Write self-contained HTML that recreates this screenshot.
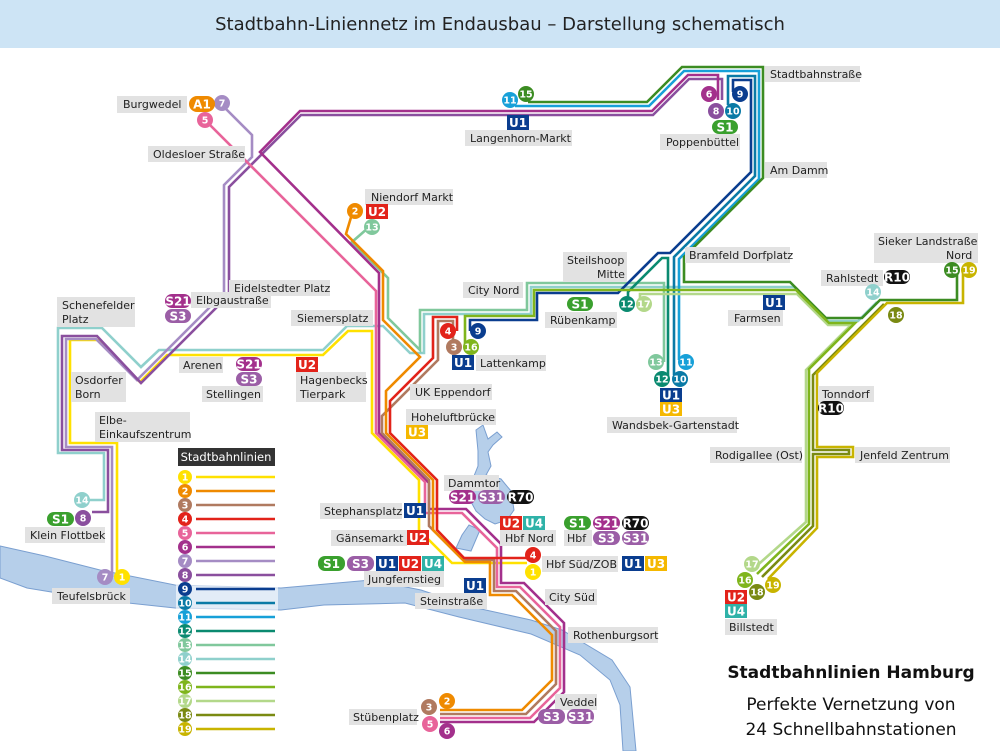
<!DOCTYPE html>
<html><head><meta charset="utf-8"><style>
html,body{margin:0;padding:0;background:#fff;}
svg{display:block;}
.l{font-family:"DejaVu Sans","Liberation Sans",sans-serif;font-size:11px;fill:#222;}
.n{font-family:"DejaVu Sans","Liberation Sans",sans-serif;font-size:9.5px;font-weight:bold;fill:#fff;text-anchor:middle;}
.b{font-family:"DejaVu Sans","Liberation Sans",sans-serif;font-size:12px;font-weight:bold;fill:#fff;text-anchor:middle;}
.ln{fill:none;stroke-width:2.6;stroke-linejoin:miter;}
</style></head><body>
<svg width="1000" height="751" viewBox="0 0 1000 751" xmlns="http://www.w3.org/2000/svg">
<rect x="0" y="0" width="1000" height="48" fill="#cde4f5"/>
<text x="500" y="30" text-anchor="middle" font-family="DejaVu Sans, Liberation Sans, sans-serif" font-size="18" fill="#222">Stadtbahn-Liniennetz im Endausbau – Darstellung schematisch</text>

<!-- river -->
<path d="M0,546 L45,556 L100,570 L175,585 L281,588 L371,580 L421,590 L472,607 L531,620 L562,630 L612,660 L630,687 L636,751 L623,751 L620,705 L610,680 L580,655 L531,634 L459,617 L405,603 L324,605 L281,610 L175,608 L100,600 L27,588 L0,578 Z" fill="#b6cfea" stroke="#7a9fd0" stroke-width="1"/>
<path d="M476,430 L483,425 L488,439 L497,432 L502,437 L493,445 L488,452 L491,466 L486,475 L501,479 L511,491 L514,510 L507,520 L495,524 L485,519 L476,511 L470,500 L472,481 L478,466 L478,451 Z" fill="#b6cfea" stroke="#7a9fd0" stroke-width="1"/>
<path d="M462,535 L469,525 L480,530 L471,551 L456,548 Z" fill="#b6cfea" stroke="#7a9fd0" stroke-width="1"/>

<!-- legend -->
<rect x="176" y="468" width="102" height="270" fill="#fff" fill-opacity="0.6"/>
<rect x="178" y="448" width="97" height="18" fill="#333"/>
<text x="226" y="461" text-anchor="middle" font-family="DejaVu Sans, sans-serif" font-size="11.5" fill="#fff">Stadtbahnlinien</text>
<g stroke-width="2.4">
<line x1="196" y1="477" x2="275" y2="477" stroke="#ffe100"/>
<line x1="196" y1="491" x2="275" y2="491" stroke="#ef8a00"/>
<line x1="196" y1="505" x2="275" y2="505" stroke="#b07a60"/>
<line x1="196" y1="519" x2="275" y2="519" stroke="#e2231a"/>
<line x1="196" y1="533" x2="275" y2="533" stroke="#e8649a"/>
<line x1="196" y1="547" x2="275" y2="547" stroke="#a3308c"/>
<line x1="196" y1="561" x2="275" y2="561" stroke="#a58cc4"/>
<line x1="196" y1="575" x2="275" y2="575" stroke="#8a4f9e"/>
<line x1="196" y1="589" x2="275" y2="589" stroke="#0a3d8f"/>
<line x1="196" y1="603" x2="275" y2="603" stroke="#0a7aa6"/>
<line x1="196" y1="617" x2="275" y2="617" stroke="#17a0d8"/>
<line x1="196" y1="631" x2="275" y2="631" stroke="#0a8a70"/>
<line x1="196" y1="645" x2="275" y2="645" stroke="#80c89c"/>
<line x1="196" y1="659" x2="275" y2="659" stroke="#8fd0cc"/>
<line x1="196" y1="673" x2="275" y2="673" stroke="#3c8c22"/>
<line x1="196" y1="687" x2="275" y2="687" stroke="#7fb51c"/>
<line x1="196" y1="701" x2="275" y2="701" stroke="#b3d88a"/>
<line x1="196" y1="715" x2="275" y2="715" stroke="#7a8a12"/>
<line x1="196" y1="729" x2="275" y2="729" stroke="#c8b400"/>
</g>
<g>
<circle cx="185" cy="477" r="7" fill="#ffe100"/><text class="n" x="185" y="480.5">1</text>
<circle cx="185" cy="491" r="7" fill="#ef8a00"/><text class="n" x="185" y="494.5">2</text>
<circle cx="185" cy="505" r="7" fill="#b07a60"/><text class="n" x="185" y="508.5">3</text>
<circle cx="185" cy="519" r="7" fill="#e2231a"/><text class="n" x="185" y="522.5">4</text>
<circle cx="185" cy="533" r="7" fill="#e8649a"/><text class="n" x="185" y="536.5">5</text>
<circle cx="185" cy="547" r="7" fill="#a3308c"/><text class="n" x="185" y="550.5">6</text>
<circle cx="185" cy="561" r="7" fill="#a58cc4"/><text class="n" x="185" y="564.5">7</text>
<circle cx="185" cy="575" r="7" fill="#8a4f9e"/><text class="n" x="185" y="578.5">8</text>
<circle cx="185" cy="589" r="7" fill="#0a3d8f"/><text class="n" x="185" y="592.5">9</text>
<circle cx="185" cy="603" r="7" fill="#0a7aa6"/><text class="n" x="185" y="606.5">10</text>
<circle cx="185" cy="617" r="7" fill="#17a0d8"/><text class="n" x="185" y="620.5">11</text>
<circle cx="185" cy="631" r="7" fill="#0a8a70"/><text class="n" x="185" y="634.5">12</text>
<circle cx="185" cy="645" r="7" fill="#80c89c"/><text class="n" x="185" y="648.5">13</text>
<circle cx="185" cy="659" r="7" fill="#8fd0cc"/><text class="n" x="185" y="662.5">14</text>
<circle cx="185" cy="673" r="7" fill="#3c8c22"/><text class="n" x="185" y="676.5">15</text>
<circle cx="185" cy="687" r="7" fill="#7fb51c"/><text class="n" x="185" y="690.5">16</text>
<circle cx="185" cy="701" r="7" fill="#b3d88a"/><text class="n" x="185" y="704.5">17</text>
<circle cx="185" cy="715" r="7" fill="#7a8a12"/><text class="n" x="185" y="718.5">18</text>
<circle cx="185" cy="729" r="7" fill="#c8b400"/><text class="n" x="185" y="732.5">19</text>
</g>

<!-- lines -->
<g class="lines">
<path class="ln" stroke="#8fd0cc" d="M88,500 H104 V453 H58 V328 H102 L141,367 L159,350 H323 L347,326 H383 L410,353 H424 V314 H531 V287 H794 L828,321 H858 L877,302"/>
<path class="ln" stroke="#80c89c" d="M368,228 L352,242 L388,278 V318 L420,350 V310 H527 V283 H664 V362"/>
<path class="ln" stroke="#ffe100" d="M117,577 V443 H70 V340 H98 L140,382 L167,355 H323 L348,331 H372 V433 L419,480 V530 L452,563 H527"/>
<path class="ln" stroke="#a58cc4" d="M225,108 L252,135 V157 L224,185 V293 L137,380 L96,339 H66 V447 H112 V577"/>
<path class="ln" stroke="#8a4f9e" d="M722,100 V79 H689 L653,115 H301 L229,187 V295 L141,383 L97,336 H62 V450 H108 V512 H92"/>
<path class="ln" stroke="#a3308c" d="M718,100 V75 H688 L652,111 H300 L260,152 L379,273 V433 L429,483 V509 H466 L501,544 V583 H524 L564,623 V692 L534,722 H440"/>
<path class="ln" stroke="#e8649a" d="M207,122 L376,291 V433 L425,482 V513 H462 L497,548 V587 H520 L560,627 V688 L530,718 H440"/>
<path class="ln" stroke="#b07a60" d="M453,342 V321 H438 V360 L382,416 V433 L429,480 V526 L463,560 H494 V591 H516 L556,631 V684 L526,714 H440"/>
<path class="ln" stroke="#ef8a00" d="M352,214 L346,234 L383,271 V320 L420,357 L386,391 V433 L433,480 V530 L465,562 H490 V595 H512 L552,635 V680 L522,710 H440"/>
<path class="ln" stroke="#e2231a" d="M457,331 V317 H433 V358 L390,401 V433 L437,480 V530 L464,558 H527"/>
<path class="ln" stroke="#0a3d8f" d="M470,331 V320 H537 V293 H618 L658,253 H670 L751,172 V80 H733 V92"/>
<path class="ln" stroke="#0a7aa6" d="M728,105 V76 H755 V176 L674,257 V375"/>
<path class="ln" stroke="#17a0d8" d="M515,106 H649 L684,71 H759 V179 L679,259 V360"/>
<path class="ln" stroke="#0a8a70" d="M628,300 V292 L662,258 H668 V379"/>
<path class="ln" stroke="#3c8c22" d="M528,102 H647 L682,67 H763 V178 L684,257 V282 H790 L826,318 H862 L880,300 H957 V275"/>
<path class="ln" stroke="#b3d88a" d="M640,300 V294 H797 L828,325 H851 L806,370 V522 L752,570"/>
<path class="ln" stroke="#7fb51c" d="M465,345 V316 H534 V290 H796 L829,323 H855 L809,369 V524 L757,574"/>
<path class="ln" stroke="#7a8a12" d="M884,304 L813,375 V450 H849 V454 H813 V526 L762,577"/>
<path class="ln" stroke="#c8b400" d="M963,272 V303 H887 L817,373 V447 H853 V457 H817 V528 L768,579"/>
</g>

<!-- label boxes -->
<g fill="#e2e2e2">
<rect x="117" y="96" width="70" height="17"/>
<rect x="148" y="146" width="97" height="16"/>
<rect x="365" y="189" width="88" height="16"/>
<rect x="229" y="280" width="101" height="16"/>
<rect x="57" y="297" width="78" height="30"/>
<rect x="191" y="292" width="80" height="16"/>
<rect x="291" y="310" width="82" height="16"/>
<rect x="179" y="357" width="44" height="16"/>
<rect x="202" y="386" width="61" height="16"/>
<rect x="296" y="372" width="70" height="30"/>
<rect x="71" y="372" width="55" height="30"/>
<rect x="95" y="412" width="95" height="30"/>
<rect x="25" y="527" width="80" height="16"/>
<rect x="52" y="588" width="78" height="16"/>
<rect x="465" y="130" width="107" height="16"/>
<rect x="660" y="134" width="80" height="16"/>
<rect x="765" y="66" width="95" height="16"/>
<rect x="765" y="162" width="62" height="16"/>
<rect x="685" y="247" width="105" height="16"/>
<rect x="563" y="252" width="64" height="30"/>
<rect x="463" y="282" width="60" height="16"/>
<rect x="545" y="312" width="72" height="16"/>
<rect x="476" y="355" width="70" height="16"/>
<rect x="410" y="384" width="82" height="16"/>
<rect x="406" y="409" width="90" height="16"/>
<rect x="607" y="417" width="130" height="16"/>
<rect x="728" y="310" width="55" height="16"/>
<rect x="874" y="233" width="104" height="30"/>
<rect x="821" y="270" width="62" height="16"/>
<rect x="818" y="386" width="56" height="16"/>
<rect x="855" y="447" width="95" height="16"/>
<rect x="710" y="447" width="92" height="16"/>
<rect x="725" y="619" width="52" height="16"/>
<rect x="444" y="475" width="55" height="16"/>
<rect x="320" y="503" width="82" height="16"/>
<rect x="500" y="530" width="56" height="16"/>
<rect x="564" y="530" width="28" height="16"/>
<rect x="331" y="530" width="76" height="16"/>
<rect x="542" y="556" width="76" height="16"/>
<rect x="364" y="571" width="80" height="16"/>
<rect x="415" y="593" width="72" height="16"/>
<rect x="545" y="589" width="52" height="16"/>
<rect x="568" y="627" width="90" height="16"/>
<rect x="555" y="694" width="42" height="16"/>
<rect x="349" y="709" width="68" height="16"/>
</g>
<g class="l">
<text x="123" y="108" class="l">Burgwedel</text>
<text x="153" y="158" class="l">Oldesloer Straße</text>
<text x="371" y="201" class="l">Niendorf Markt</text>
<text x="234" y="292" class="l">Eidelstedter Platz</text>
<text x="62" y="309" class="l">Schenefelder</text>
<text x="62" y="323" class="l">Platz</text>
<text x="196" y="304" class="l">Elbgaustraße</text>
<text x="297" y="322" class="l">Siemersplatz</text>
<text x="183" y="369" class="l">Arenen</text>
<text x="206" y="398" class="l">Stellingen</text>
<text x="300" y="384" class="l">Hagenbecks</text>
<text x="300" y="398" class="l">Tierpark</text>
<text x="75" y="384" class="l">Osdorfer</text>
<text x="75" y="398" class="l">Born</text>
<text x="99" y="424" class="l">Elbe-</text>
<text x="99" y="438" class="l">Einkaufszentrum</text>
<text x="30" y="539" class="l">Klein Flottbek</text>
<text x="57" y="600" class="l">Teufelsbrück</text>
<text x="470" y="142" class="l">Langenhorn-Markt</text>
<text x="666" y="146" class="l">Poppenbüttel</text>
<text x="770" y="78" class="l">Stadtbahnstraße</text>
<text x="770" y="174" class="l">Am Damm</text>
<text x="689" y="259" class="l">Bramfeld Dorfplatz</text>
<text x="567" y="264" class="l">Steilshoop</text>
<text x="597" y="278" class="l">Mitte</text>
<text x="468" y="294" class="l">City Nord</text>
<text x="550" y="324" class="l">Rübenkamp</text>
<text x="480" y="367" class="l">Lattenkamp</text>
<text x="415" y="396" class="l">UK Eppendorf</text>
<text x="411" y="421" class="l">Hoheluftbrücke</text>
<text x="612" y="429" class="l">Wandsbek-Gartenstadt</text>
<text x="734" y="322" class="l">Farmsen</text>
<text x="878" y="245" class="l">Sieker Landstraße</text>
<text x="946" y="259" class="l">Nord</text>
<text x="826" y="282" class="l">Rahlstedt</text>
<text x="822" y="398" class="l">Tonndorf</text>
<text x="860" y="459" class="l">Jenfeld Zentrum</text>
<text x="715" y="459" class="l">Rodigallee (Ost)</text>
<text x="729" y="631" class="l">Billstedt</text>
<text x="448" y="487" class="l">Dammtor</text>
<text x="324" y="515" class="l">Stephansplatz</text>
<text x="505" y="542" class="l">Hbf Nord</text>
<text x="567" y="542" class="l">Hbf</text>
<text x="336" y="542" class="l">Gänsemarkt</text>
<text x="546" y="568" class="l">Hbf Süd/ZOB</text>
<text x="368" y="583" class="l">Jungfernstieg</text>
<text x="420" y="605" class="l">Steinstraße</text>
<text x="549" y="601" class="l">City Süd</text>
<text x="573" y="639" class="l">Rothenburgsort</text>
<text x="560" y="706" class="l">Veddel</text>
<text x="353" y="721" class="l">Stübenplatz</text>
</g>

<!-- line circles -->
<g>
<circle cx="222" cy="103" r="8" fill="#a58cc4"/><text class="n" x="222" y="106.5">7</text>
<circle cx="205" cy="120" r="8" fill="#e8649a"/><text class="n" x="205" y="123.5">5</text>
<circle cx="510" cy="100" r="8" fill="#17a0d8"/><text class="n" x="510" y="103.5">11</text>
<circle cx="526" cy="94" r="8" fill="#3c8c22"/><text class="n" x="526" y="97.5">15</text>
<circle cx="709" cy="94" r="8" fill="#a3308c"/><text class="n" x="709" y="97.5">6</text>
<circle cx="740" cy="94" r="8" fill="#0a3d8f"/><text class="n" x="740" y="97.5">9</text>
<circle cx="716" cy="111" r="8" fill="#8a4f9e"/><text class="n" x="716" y="114.5">8</text>
<circle cx="733" cy="111" r="8" fill="#0a7aa6"/><text class="n" x="733" y="114.5">10</text>
<circle cx="355" cy="211" r="8" fill="#ef8a00"/><text class="n" x="355" y="214.5">2</text>
<circle cx="372" cy="227" r="8" fill="#80c89c"/><text class="n" x="372" y="230.5">13</text>
<circle cx="448" cy="331" r="8" fill="#e2231a"/><text class="n" x="448" y="334.5">4</text>
<circle cx="478" cy="331" r="8" fill="#0a3d8f"/><text class="n" x="478" y="334.5">9</text>
<circle cx="454" cy="347" r="8" fill="#b07a60"/><text class="n" x="454" y="350.5">3</text>
<circle cx="471" cy="347" r="8" fill="#7fb51c"/><text class="n" x="471" y="350.5">16</text>
<circle cx="627" cy="304" r="8" fill="#0a8a70"/><text class="n" x="627" y="307.5">12</text>
<circle cx="644" cy="304" r="8" fill="#b3d88a"/><text class="n" x="644" y="307.5">17</text>
<circle cx="656" cy="362" r="8" fill="#80c89c"/><text class="n" x="656" y="365.5">13</text>
<circle cx="686" cy="362" r="8" fill="#17a0d8"/><text class="n" x="686" y="365.5">11</text>
<circle cx="662" cy="379" r="8" fill="#0a8a70"/><text class="n" x="662" y="382.5">12</text>
<circle cx="680" cy="379" r="8" fill="#0a7aa6"/><text class="n" x="680" y="382.5">10</text>
<circle cx="873" cy="292" r="8" fill="#8fd0cc"/><text class="n" x="873" y="295.5">14</text>
<circle cx="896" cy="315" r="8" fill="#7a8a12"/><text class="n" x="896" y="318.5">18</text>
<circle cx="952" cy="270" r="8" fill="#3c8c22"/><text class="n" x="952" y="273.5">15</text>
<circle cx="969" cy="270" r="8" fill="#c8b400"/><text class="n" x="969" y="273.5">19</text>
<circle cx="752" cy="564" r="8" fill="#b3d88a"/><text class="n" x="752" y="567.5">17</text>
<circle cx="745" cy="580" r="8" fill="#7fb51c"/><text class="n" x="745" y="583.5">16</text>
<circle cx="757" cy="592" r="8" fill="#7a8a12"/><text class="n" x="757" y="595.5">18</text>
<circle cx="773" cy="585" r="8" fill="#c8b400"/><text class="n" x="773" y="588.5">19</text>
<circle cx="533" cy="555" r="8" fill="#e2231a"/><text class="n" x="533" y="558.5">4</text>
<circle cx="533" cy="572" r="8" fill="#ffe100"/><text class="n" x="533" y="575.5">1</text>
<circle cx="429" cy="707" r="8" fill="#b07a60"/><text class="n" x="429" y="710.5">3</text>
<circle cx="447" cy="701" r="8" fill="#ef8a00"/><text class="n" x="447" y="704.5">2</text>
<circle cx="430" cy="724" r="8" fill="#e8649a"/><text class="n" x="430" y="727.5">5</text>
<circle cx="447" cy="731" r="8" fill="#a3308c"/><text class="n" x="447" y="734.5">6</text>
<circle cx="83" cy="518" r="8" fill="#8a4f9e"/><text class="n" x="83" y="521.5">8</text>
<circle cx="82" cy="500" r="8" fill="#8fd0cc"/><text class="n" x="82" y="503.5">14</text>
<circle cx="105" cy="577" r="8" fill="#a58cc4"/><text class="n" x="105" y="580.5">7</text>
<circle cx="122" cy="577" r="8" fill="#ffe100"/><text class="n" x="122" y="580.5">1</text>
</g>

<!-- badges -->
<g>
<rect x="189" y="96" width="26" height="16" rx="8" fill="#ef8a00"/><text class="b" x="202" y="108.5">A1</text>
<rect x="507" y="115" width="22" height="15" fill="#0a3d8f"/><text class="b" x="518" y="127">U1</text>
<rect x="712" y="120" width="26" height="14" rx="7" fill="#3aa02e"/><text class="b" x="725" y="131.5">S1</text>
<rect x="366" y="204" width="22" height="15" fill="#e2231a"/><text class="b" x="377" y="216">U2</text>
<rect x="165" y="294" width="26" height="14" rx="7" fill="#a3308c"/><text class="b" x="178" y="305.5">S21</text>
<rect x="165" y="309" width="26" height="14" rx="7" fill="#9b5ea6"/><text class="b" x="178" y="320.5">S3</text>
<rect x="236" y="357" width="26" height="14" rx="7" fill="#a3308c"/><text class="b" x="249" y="368.5">S21</text>
<rect x="236" y="372" width="26" height="14" rx="7" fill="#9b5ea6"/><text class="b" x="249" y="383.5">S3</text>
<rect x="296" y="357" width="22" height="15" fill="#e2231a"/><text class="b" x="307" y="369">U2</text>
<rect x="452" y="355" width="22" height="15" fill="#0a3d8f"/><text class="b" x="463" y="367">U1</text>
<rect x="567" y="297" width="26" height="14" rx="7" fill="#3aa02e"/><text class="b" x="580" y="308.5">S1</text>
<rect x="763" y="295" width="22" height="15" fill="#0a3d8f"/><text class="b" x="774" y="307">U1</text>
<rect x="660" y="388" width="22" height="14" fill="#0a3d8f"/><text class="b" x="671" y="399.5">U1</text>
<rect x="660" y="402" width="22" height="14" fill="#f5b800"/><text class="b" x="671" y="413.5">U3</text>
<rect x="406" y="425" width="22" height="14" fill="#f5b800"/><text class="b" x="417" y="436.5">U3</text>
<rect x="884" y="270" width="26" height="14" rx="7" fill="#111"/><text class="b" x="897" y="281.5">R10</text>
<rect x="818" y="401" width="26" height="14" rx="7" fill="#111"/><text class="b" x="831" y="412.5">R10</text>
<rect x="725" y="590" width="22" height="14" fill="#e2231a"/><text class="b" x="736" y="601.5">U2</text>
<rect x="725" y="604" width="22" height="14" fill="#2fb2a8"/><text class="b" x="736" y="615.5">U4</text>
<rect x="449" y="490" width="27" height="14" rx="7" fill="#a3308c"/><text class="b" x="462.5" y="501.5">S21</text>
<rect x="478" y="490" width="27" height="14" rx="7" fill="#9b5ea6"/><text class="b" x="491.5" y="501.5">S31</text>
<rect x="507" y="490" width="27" height="14" rx="7" fill="#111"/><text class="b" x="520.5" y="501.5">R70</text>
<rect x="404" y="503" width="22" height="15" fill="#0a3d8f"/><text class="b" x="415" y="515">U1</text>
<rect x="407" y="530" width="22" height="15" fill="#e2231a"/><text class="b" x="418" y="542">U2</text>
<rect x="500" y="516" width="22" height="14" fill="#e2231a"/><text class="b" x="511" y="527.5">U2</text>
<rect x="523" y="516" width="22" height="14" fill="#2fb2a8"/><text class="b" x="534" y="527.5">U4</text>
<rect x="564" y="516" width="27" height="14" rx="7" fill="#3aa02e"/><text class="b" x="577.5" y="527.5">S1</text>
<rect x="593" y="516" width="27" height="14" rx="7" fill="#a3308c"/><text class="b" x="606.5" y="527.5">S21</text>
<rect x="622" y="516" width="27" height="14" rx="7" fill="#111"/><text class="b" x="635.5" y="527.5">R70</text>
<rect x="593" y="531" width="27" height="14" rx="7" fill="#9b5ea6"/><text class="b" x="606.5" y="542.5">S3</text>
<rect x="622" y="531" width="27" height="14" rx="7" fill="#9b5ea6"/><text class="b" x="635.5" y="542.5">S31</text>
<rect x="622" y="556" width="22" height="15" fill="#0a3d8f"/><text class="b" x="633" y="568">U1</text>
<rect x="645" y="556" width="22" height="15" fill="#f5b800"/><text class="b" x="656" y="568">U3</text>
<rect x="318" y="556" width="27" height="15" rx="7" fill="#3aa02e"/><text class="b" x="331.5" y="568">S1</text>
<rect x="347" y="556" width="27" height="15" rx="7" fill="#9b5ea6"/><text class="b" x="360.5" y="568">S3</text>
<rect x="376" y="556" width="22" height="15" fill="#0a3d8f"/><text class="b" x="387" y="568">U1</text>
<rect x="399" y="556" width="22" height="15" fill="#e2231a"/><text class="b" x="410" y="568">U2</text>
<rect x="422" y="556" width="22" height="15" fill="#2fb2a8"/><text class="b" x="433" y="568">U4</text>
<rect x="464" y="578" width="22" height="15" fill="#0a3d8f"/><text class="b" x="475" y="590">U1</text>
<rect x="538" y="709" width="27" height="15" rx="7" fill="#9b5ea6"/><text class="b" x="551.5" y="721">S3</text>
<rect x="567" y="709" width="27" height="15" rx="7" fill="#9b5ea6"/><text class="b" x="580.5" y="721">S31</text>
<rect x="47" y="512" width="27" height="14" rx="7" fill="#3aa02e"/><text class="b" x="60.5" y="523.5">S1</text>
</g>

<text x="851" y="678" text-anchor="middle" font-family="DejaVu Sans, Liberation Sans, sans-serif" font-size="17" font-weight="bold" fill="#111">Stadtbahnlinien Hamburg</text>
<text x="851" y="710" text-anchor="middle" font-family="DejaVu Sans, Liberation Sans, sans-serif" font-size="17" fill="#111">Perfekte Vernetzung von</text>
<text x="851" y="735" text-anchor="middle" font-family="DejaVu Sans, Liberation Sans, sans-serif" font-size="17" fill="#111">24 Schnellbahnstationen</text>
</svg>
</body></html>
